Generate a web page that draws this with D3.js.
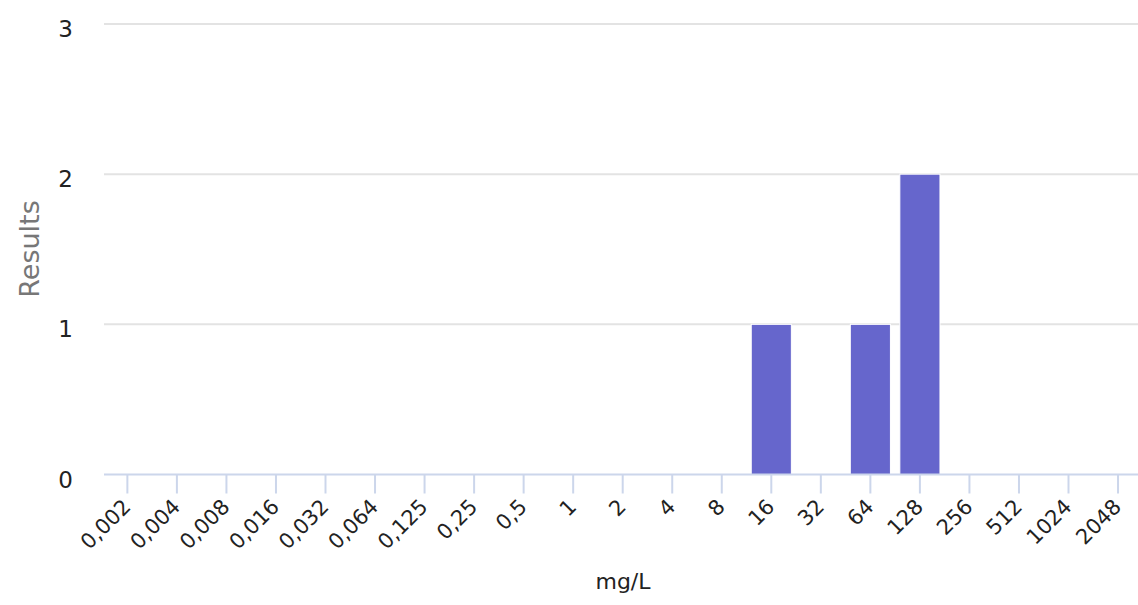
<!DOCTYPE html>
<html>
<head>
<meta charset="utf-8">
<script src="https://cdn.jsdelivr.net/npm/d3@7"></script>
<style>
  html, body { margin: 0; padding: 0; background: #fff; }
  svg { display: block; font-family: "DejaVu Sans", Verdana, sans-serif; }
</style>
</head>
<body>
<svg id="chart" width="1138" height="605"></svg>
<script>
const categories = ["0,002","0,004","0,008","0,016","0,032","0,064","0,125","0,25","0,5","1","2","4","8","16","32","64","128","256","512","1024","2048"];
const values = [0,0,0,0,0,0,0,0,0,0,0,0,0,1,0,1,2,0,0,0,0];
const yTicks = [0, 1, 2, 3];
const xTitle = "mg/L";
const yTitle = "Results";

const svg = d3.select("#chart");
const W = 1138, H = 605;
const plotLeft = 104, plotRight = 1138;

const x = d3.scaleBand().domain(categories).range([102.6, 1142.8]).paddingInner(0.19).paddingOuter(0.095);
const y = d3.scaleLinear().domain([0, 3]).range([474.5, 24]);

// gridlines
svg.append("g").selectAll("line").data(yTicks.filter(d => d > 0)).join("line")
  .attr("x1", plotLeft).attr("x2", plotRight)
  .attr("y1", d => y(d)).attr("y2", d => y(d))
  .attr("stroke", "#e3e3e3").attr("stroke-width", 2);

// y labels
svg.append("g").selectAll("text").data(yTicks).join("text")
  .attr("x", 73).attr("y", d => y(d) + 13)
  .attr("text-anchor", "end")
  .attr("font-size", 23).attr("fill", "#222")
  .text(d => d);

// bars
const data = categories.map((c, i) => ({c, v: values[i]}));
svg.append("g").selectAll("rect").data(data.filter(d => d.v > 0)).join("rect")
  .attr("x", d => x(d.c)).attr("width", x.bandwidth())
  .attr("y", d => y(d.v)).attr("height", d => y(0) - y(d.v))
  .attr("fill", "#6666cc").attr("stroke", "#ffffff").attr("stroke-width", 1);

// x axis line
svg.append("line").attr("x1", plotLeft).attr("x2", plotRight)
  .attr("y1", y(0)).attr("y2", y(0))
  .attr("stroke", "#ccd6eb").attr("stroke-width", 2);

// ticks
const cx = d => x(d) + x.bandwidth() / 2;
svg.append("g").selectAll("line").data(categories).join("line")
  .attr("x1", cx).attr("x2", cx)
  .attr("y1", y(0)).attr("y2", y(0) + 19)
  .attr("stroke", "#ccd6eb").attr("stroke-width", 2);

// x labels
svg.append("g").selectAll("text").data(categories).join("text")
  .attr("transform", d => `translate(${cx(d) + 4.5},${y(0) + 33.5}) rotate(-45)`)
  .attr("text-anchor", "end")
  .attr("font-size", 21).attr("fill", "#222")
  .text(d => d);

// axis titles
svg.append("text").attr("x", 623).attr("y", 589)
  .attr("text-anchor", "middle").attr("font-size", 22).attr("fill", "#222")
  .text(xTitle);
svg.append("text").attr("transform", "translate(38.5,249) rotate(-90)")
  .attr("text-anchor", "middle").attr("font-size", 27).attr("fill", "#777")
  .text(yTitle);
</script>
</body>
</html>
